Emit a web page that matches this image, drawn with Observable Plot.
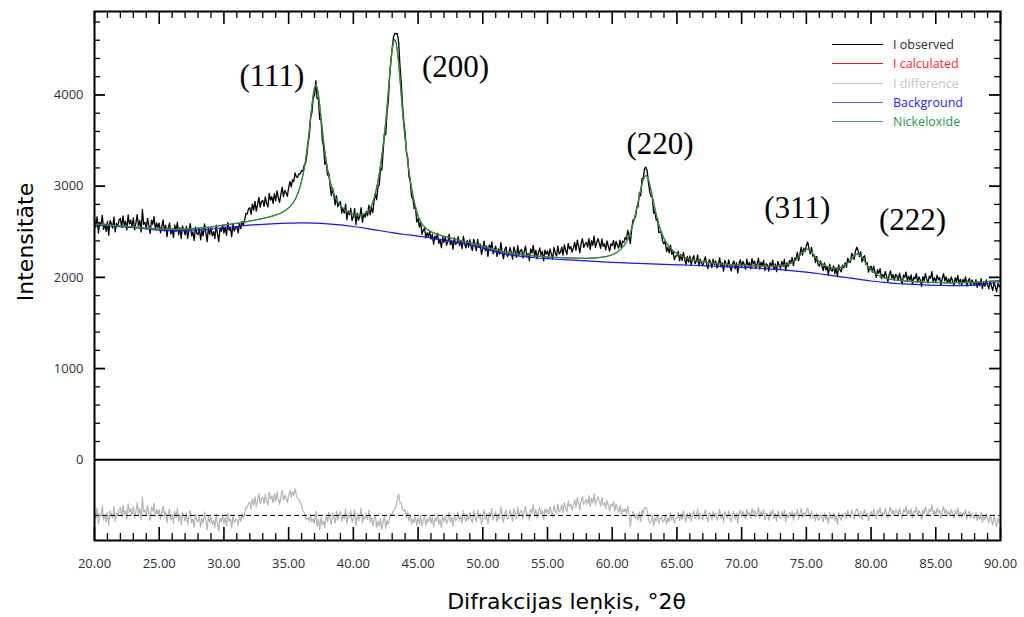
<!DOCTYPE html>
<html>
<head>
<meta charset="utf-8">
<script src="https://cdn.jsdelivr.net/npm/d3@7"></script>
<script src="https://cdn.jsdelivr.net/npm/@observablehq/plot@0.6"></script>
<style>
  body { margin: 0; background: #fff; }
  #chart { position: relative; width: 1024px; height: 617px; }
  #legend { position: absolute; left: 832px; top: 35px; font-family: "Open Sans", sans-serif; font-size: 12.5px; }
  #legend .row { display: flex; align-items: center; height: 19.3px; }
  #legend .swatch { display: inline-block; width: 51px; height: 0; border-top: 1.4px solid; margin-right: 10px; }
</style>
</head>
<body>
<div id="chart"><div id="legend"></div></div>
<script>
// Scan grid: 20.0° … 90.0° 2θ, 0.1° step
const scanStart = 20;
const scanStep = 0.1;

// Calculated profile (Nickeloxide phase + background), one row per degree
const calculated = [
  2585,2584,2583,2582,2581,2580,2578,2577,2576,2575,
  2574,2573,2572,2571,2570,2569,2567,2566,2565,2564,
  2563,2562,2561,2560,2559,2558,2557,2556,2555,2554,
  2553,2552,2550,2549,2548,2546,2545,2544,2542,2541,
  2540,2539,2538,2537,2536,2535,2534,2533,2532,2531,
  2530,2530,2529,2529,2528,2528,2528,2527,2527,2526,
  2526,2526,2526,2527,2527,2527,2528,2528,2528,2529,
  2529,2530,2531,2532,2533,2534,2535,2536,2537,2538,
  2539,2540,2542,2543,2544,2546,2547,2548,2550,2551,
  2552,2554,2556,2558,2560,2562,2565,2567,2569,2571,
  2573,2575,2577,2579,2581,2583,2585,2587,2589,2591,
  2593,2595,2598,2600,2603,2605,2607,2610,2612,2616,
  2619,2621,2623,2625,2628,2631,2634,2637,2640,2643,
  2646,2649,2652,2655,2659,2663,2667,2670,2674,2679,
  2684,2689,2694,2700,2706,2714,2721,2730,2739,2750,
  2762,2775,2791,2809,2830,2855,2883,2916,2957,3002,
  3058,3118,3193,3278,3378,3492,3617,3752,3887,4001,
  4081,4111,4080,4003,3888,3753,3618,3491,3377,3276,
  3190,3115,3054,2999,2954,2913,2879,2851,2827,2806,
  2787,2771,2757,2745,2734,2725,2717,2710,2702,2697,
  2696,2691,2688,2686,2686,2685,2686,2689,2693,2699,
  2708,2719,2734,2757,2785,2823,2869,2922,2983,3054,
  3135,3227,3332,3449,3575,3702,3859,4035,4212,4368,
  4500,4582,4608,4576,4487,4349,4186,4004,3821,3659,
  3527,3395,3272,3161,3063,2976,2898,2831,2771,2719,
  2674,2639,2609,2587,2568,2553,2539,2528,2517,2509,
  2501,2494,2487,2483,2478,2473,2469,2462,2457,2453,
  2451,2447,2444,2440,2437,2433,2429,2426,2422,2419,
  2415,2411,2408,2404,2401,2397,2394,2390,2387,2383,
  2380,2376,2373,2369,2366,2362,2358,2354,2350,2346,
  2342,2338,2334,2329,2325,2321,2317,2313,2308,2304,
  2300,2297,2294,2290,2287,2284,2281,2278,2275,2272,
  2269,2267,2265,2262,2260,2258,2256,2255,2253,2252,
  2250,2248,2246,2245,2243,2241,2240,2239,2237,2236,
  2235,2234,2233,2233,2232,2231,2229,2227,2226,2224,
  2222,2221,2220,2220,2219,2218,2218,2217,2217,2216,
  2216,2216,2215,2215,2214,2214,2214,2213,2213,2212,
  2212,2212,2211,2211,2210,2210,2210,2210,2209,2209,
  2209,2209,2210,2210,2211,2211,2212,2213,2215,2216,
  2217,2219,2221,2223,2226,2228,2231,2235,2239,2243,
  2248,2254,2262,2269,2278,2288,2300,2314,2329,2346,
  2367,2390,2416,2451,2490,2535,2584,2639,2697,2759,
  2825,2894,2961,3023,3074,3107,3118,3106,3072,3020,
  2957,2888,2818,2751,2688,2632,2580,2535,2494,2460,
  2428,2401,2377,2356,2337,2321,2305,2293,2280,2270,
  2260,2251,2243,2235,2229,2223,2218,2212,2207,2202,
  2200,2195,2192,2188,2185,2182,2179,2176,2174,2172,
  2170,2168,2166,2165,2163,2161,2160,2158,2156,2155,
  2153,2152,2150,2149,2148,2146,2145,2144,2142,2141,
  2140,2139,2138,2138,2137,2136,2135,2134,2134,2133,
  2132,2131,2131,2130,2130,2129,2128,2128,2127,2127,
  2126,2126,2125,2125,2125,2124,2124,2124,2123,2123,
  2123,2123,2123,2123,2124,2124,2125,2126,2127,2128,
  2130,2132,2135,2138,2141,2144,2148,2153,2160,2167,
  2176,2185,2197,2209,2224,2239,2255,2271,2286,2300,
  2306,2308,2302,2293,2277,2259,2240,2221,2203,2186,
  2175,2164,2153,2143,2134,2125,2120,2115,2111,2108,
  2105,2102,2101,2101,2103,2105,2109,2113,2119,2125,
  2134,2143,2157,2171,2187,2203,2220,2237,2248,2256,
  2258,2251,2237,2221,2199,2177,2156,2135,2115,2096,
  2080,2066,2055,2044,2035,2026,2018,2011,2005,1999,
  1995,1991,1988,1985,1983,1980,1978,1975,1973,1970,
  1968,1967,1966,1964,1963,1962,1961,1960,1958,1957,
  1956,1955,1954,1954,1953,1952,1951,1950,1950,1949,
  1948,1947,1947,1946,1946,1945,1945,1944,1944,1943,
  1943,1943,1943,1942,1942,1942,1942,1941,1941,1941,
  1941,1941,1941,1941,1941,1941,1942,1942,1942,1942,
  1942,1942,1943,1943,1944,1944,1944,1945,1945,1946,
  1946,1947,1948,1948,1949,1950,1951,1952,1952,1953,
  1954,1955,1957,1958,1960,1961,1962,1964,1965,1967,
  1968
];

// Residual I_obs − I_calc on the same grid
const difference = [
  60,-34,82,-94,20,-14,102,-51,9,-71,
  37,-110,51,17,-31,94,-68,26,-9,65,
  84,-13,112,10,56,-38,129,30,73,-1,
  98,-30,47,140,13,78,-47,200,39,61,
  -4,107,27,-55,90,47,132,-13,64,16,
  65,-43,26,102,-17,43,-82,20,68,-51,
  9,-88,48,-26,77,-60,17,-102,37,-14,
  -63,31,-105,-11,57,-80,-37,-131,14,-54,
  -71,-2,-130,-28,-88,40,-54,-156,-11,-79,
  -12,-98,-55,-132,13,-81,-174,-29,-64,5,
  -89,-21,-115,22,-64,-38,-140,5,-81,-46,
  -40,-108,-6,-66,11,-31,20,90,85,135,
  146,70,181,112,206,95,164,240,129,189,
  197,129,231,154,112,257,180,214,137,240,
  156,258,181,122,207,275,164,224,190,139,
  223,274,201,261,221,290,219,181,179,133,
  115,45,35,-30,-47,-20,-64,0,-77,-35,
  -87,45,-121,-44,-155,-19,-104,-61,-138,-2,
  -68,35,-42,-102,26,-25,-85,43,-51,1,
  45,-66,2,-41,70,-92,11,-24,53,-75,
  -32,62,-109,19,-58,-15,79,-83,2,-41,
  15,-45,57,-71,-19,-113,-36,-2,-130,-62,
  -121,-36,-155,-70,-2,-138,-53,-104,-19,15,
  10,55,67,95,185,230,140,135,70,50,
  59,-26,42,-61,-9,-95,-35,-78,-1,-112,
  -29,-89,5,-115,-55,-12,-106,-38,-72,-4,
  -81,-21,-123,-29,-64,13,-98,-46,-132,-12,
  -66,-6,-91,-49,37,-74,-23,-117,11,-57,
  -42,35,-59,-8,-85,52,-25,-68,18,-51,
  33,-44,-78,50,-10,-70,58,-27,16,-95,
  -26,60,-43,17,-94,34,-9,77,-51,0,
  43,-68,17,-34,94,-17,-77,26,60,-43,
  -19,58,15,-62,75,24,-36,92,-11,41,
  56,-38,39,98,-13,21,-55,73,30,115,
  -4,64,-30,39,90,13,56,-47,73,30,
  67,7,93,33,-18,110,50,16,127,41,
  56,116,30,141,81,39,158,99,124,64,
  111,171,85,196,136,60,162,213,119,154,
  174,122,216,97,191,139,242,114,165,208,
  159,99,202,116,142,74,168,108,48,125,
  101,152,49,126,75,32,109,15,66,41,
  70,25,100,10,-120,-15,45,0,-35,15,
  -51,34,-68,60,17,85,89,60,-34,-85,
  -71,-2,-113,-28,-62,15,-88,-36,-11,-71,
  -61,-1,-95,-26,-69,33,-52,-9,-86,-35,
  -27,33,-61,16,-44,50,-19,-70,24,-36,
  34,-60,9,51,-34,-9,68,-51,26,-17,
  -43,17,60,-26,-68,34,9,-51,43,-17,
  26,-51,-9,68,-34,17,-77,43,0,-26,
  51,-17,-68,9,43,-43,26,-85,17,60,
  -16,44,10,-41,70,-7,36,-33,78,19,
  53,-24,27,87,-33,44,1,61,-50,27,
  14,-55,39,-4,65,-38,22,-63,48,5,
  -34,43,-17,60,-68,17,-26,34,-9,51,
  -51,26,-9,68,-43,17,77,-26,34,-17,
  43,80,17,-34,51,-26,9,-60,26,-43,
  -53,16,-27,-70,24,-44,-1,-87,33,-27,
  -36,24,-61,-1,-95,33,-27,-53,16,-19,
  27,-33,53,1,-24,61,19,-41,44,74,
  36,-24,44,-50,19,61,-16,27,-58,10,
  42,-9,68,16,-35,59,25,85,-18,34,
  4,73,21,-30,47,90,13,56,-4,64,
  47,-4,81,21,-38,64,39,98,4,56,
  13,73,-30,47,30,90,-4,56,21,-47,
  61,18,95,35,-8,69,44,120,9,52,
  4,81,30,56,-30,47,98,21,64,-4,
  46,-6,63,20,-31,54,11,80,-14,37,
  -24,36,1,61,-41,19,44,-33,27,-7,
  -32,28,-58,2,-41,36,-75,-6,-49,19,
  -38,-81,5,-55,-106,-12,-64,-123,-29,-72,
  -60
];

// Refined background, one node per degree
const bgAngle = [
  20,21,22,23,24,25,26,27,28,29,30,31,32,33,34,35,36,37,38,39,40,41,42,43,44,45,
  46,47,48,49,50,51,52,53,54,55,56,57,58,59,60,61,62,63,64,65,66,67,68,69,70,
  71,72,73,74,75,76,77,78,79,80,81,82,83,84,85,86,87,88,89,90
];
const bgIntensity = [
  2580,2568,2556,2545,2530,2518,2513,2514,2520,2530,2545,2558,2572,2582,2589,2594,2597,2594,2587,2575,2558,2538,2514,2490,2470,2452,
  2432,2410,2385,2355,2320,2280,2250,2230,2215,2205,2196,2188,2180,2172,2164,2158,2153,2148,2143,2138,2133,2128,2122,2116,2110,
  2102,2094,2084,2072,2058,2040,2020,2000,1980,1960,1945,1933,1926,1918,1913,1910,1910,1915,1930,1960
];

// Reflection labels
const peakHkl = ["(111)", "(200)", "(220)", "(311)", "(222)"];
const peakLabelAngle = [33.7, 47.9, 63.7, 74.3, 83.2];
const peakLabelIntensity = [4212, 4310, 3466, 2765, 2633];

// Axis ticks
const angleTicks = [20, 25, 30, 35, 40, 45, 50, 55, 60, 65, 70, 75, 80, 85, 90];
const intensityTicks = [0, 1000, 2000, 3000, 4000];

// Vertical offset at which the residual is drawn
const diffOffset = -610;

// Legend
const legendNames = ["I observed", "I calculated", "I difference", "Background", "Nickeloxide"];
const legendLineColors = ["#000000", "#ff1a1a", "#c6c6c6", "#5a5aff", "#4ea872"];
const legendTextColors = ["#2b2b2b", "#ff2a2a", "#c6c6c6", "#2424ff", "#27964f"];

const scan = calculated.map((c, i) => ({
  angle: +(scanStart + i * scanStep).toFixed(1),
  calc: c,
  diff: difference[i],
  obs: c + difference[i]
}));
const background = bgAngle.map((a, i) => ({angle: a, intensity: bgIntensity[i]}));
const peaks = peakHkl.map((h, i) => ({hkl: h, angle: peakLabelAngle[i], intensity: peakLabelIntensity[i]}));

const W = 1024, H = 617;
const mL = 94, mR = 24, mT = 11, mB = 77;
const frameW = W - mL - mR, frameH = H - mT - mB;

const minorAngles = d3.range(20, 91).filter(a => a % 5 !== 0);
const minorIntensity = d3.range(200, 4801, 200).filter(v => v % 1000 !== 0);
const majorIntensity = d3.range(1000, 4801, 1000);

const titleFont = "'DejaVu Sans', Verdana, sans-serif";

const chart = Plot.plot({
  width: W,
  height: H,
  marginLeft: mL,
  marginRight: mR,
  marginTop: mT,
  marginBottom: mB,
  x: {domain: [20, 90]},
  y: {domain: [-885, 4915]},
  style: {fontFamily: "'Open Sans', sans-serif", background: "#fff"},
  marks: [
    // residual and its reference line
    Plot.line(scan, {x: "angle", y: d => d.diff + diffOffset, stroke: "#b4b4b4", strokeWidth: 1.2}),
    Plot.ruleY([diffOffset], {stroke: "#000", strokeWidth: 1, strokeDasharray: "5,3"}),
    Plot.ruleY([0], {stroke: "#000", strokeWidth: 2}),
    // profiles
    Plot.line(scan, {x: "angle", y: "obs", stroke: "#000", strokeWidth: 1.3}),
    Plot.line(background, {x: "angle", y: "intensity", stroke: "#1414ff", strokeWidth: 1.2, curve: "natural"}),
    Plot.line(scan, {x: "angle", y: "calc", stroke: "#ff0000", strokeWidth: 1}),
    Plot.line(scan, {x: "angle", y: "calc", stroke: "#1a9641", strokeWidth: 1.3}),
    // inward ticks: bottom / top
    Plot.ruleX(minorAngles, {x: d => d, insetTop: frameH - 7, stroke: "#000", strokeWidth: 1.3}),
    Plot.ruleX(angleTicks, {x: d => d, insetTop: frameH - 13, stroke: "#000", strokeWidth: 1.6}),
    Plot.ruleX(minorAngles, {x: d => d, insetBottom: frameH - 7, stroke: "#000", strokeWidth: 1.3}),
    Plot.ruleX(angleTicks, {x: d => d, insetBottom: frameH - 13, stroke: "#000", strokeWidth: 1.6}),
    // inward ticks: left / right
    Plot.ruleY(minorIntensity, {y: d => d, insetRight: frameW - 6, stroke: "#000", strokeWidth: 1.3}),
    Plot.ruleY(majorIntensity, {y: d => d, insetRight: frameW - 11, stroke: "#000", strokeWidth: 1.8}),
    Plot.ruleY(minorIntensity, {y: d => d, insetLeft: frameW - 6, stroke: "#000", strokeWidth: 1.3}),
    Plot.ruleY(majorIntensity, {y: d => d, insetLeft: frameW - 11, stroke: "#000", strokeWidth: 1.8}),
    Plot.frame({stroke: "#000", strokeWidth: 2}),
    Plot.axisX({ticks: angleTicks, tickSize: 0, tickPadding: 18, tickFormat: d => d.toFixed(2), fontSize: 13, fill: "#30303c", label: null}),
    Plot.axisY({ticks: intensityTicks, tickSize: 0, tickPadding: 11, tickFormat: d => String(d), fontSize: 13, fill: "#30303c", label: null}),
    // reflection labels
    Plot.text(peaks, {x: "angle", y: "intensity", text: "hkl", fontFamily: "'Liberation Serif', serif", fontSize: 31, fill: "#000"}),
    // axis titles
    Plot.text(["Intensitāte"], {frameAnchor: "left", textAnchor: "middle", lineAnchor: "middle", dx: -69, dy: -34, rotate: -90, fontFamily: titleFont, fontSize: 22, fill: "#000"}),
    Plot.text(["Difrakcijas leņķis, °2θ"], {frameAnchor: "bottom", textAnchor: "middle", lineAnchor: "middle", dx: 19, dy: 61, fontFamily: titleFont, fontSize: 22, fill: "#000"})
  ]
});

const host = document.getElementById("chart");
host.insertBefore(chart, host.firstChild);

const legend = d3.select("#legend");
legendNames.forEach((name, i) => {
  const row = legend.append("div").attr("class", "row");
  row.append("span").attr("class", "swatch").style("border-top-color", legendLineColors[i]);
  row.append("span").style("color", legendTextColors[i]).text(name);
});
</script>
</body>
</html>
